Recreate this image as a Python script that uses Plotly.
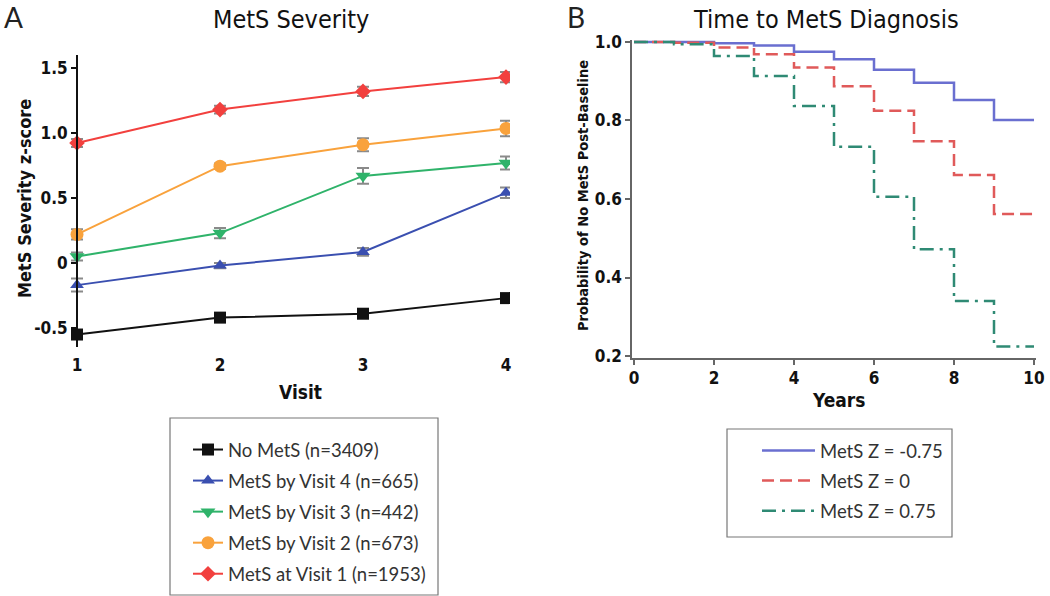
import plotly.graph_objects as go

W, H = 1050, 596

# ---------------- Panel A data ----------------
visits = [1, 2, 3, 4]
groups = ["No MetS (n=3409)", "MetS by Visit 4 (n=665)", "MetS by Visit 3 (n=442)",
          "MetS by Visit 2 (n=673)", "MetS at Visit 1 (n=1953)"]
no_mets = [-0.55, -0.42, -0.39, -0.27]
by_v4 = [-0.17, -0.02, 0.085, 0.54]
by_v3 = [0.05, 0.23, 0.67, 0.77]
by_v2 = [0.22, 0.745, 0.91, 1.035]
at_v1 = [0.923, 1.18, 1.32, 1.43]
err_no_mets = [0.03, 0.02, 0.02, 0.02]
err_by_v4 = [0.05, 0.02, 0.03, 0.04]
err_by_v3 = [0.03, 0.04, 0.06, 0.05]
err_by_v2 = [0.04, 0.02, 0.05, 0.06]
err_at_v1 = [0.03, 0.03, 0.035, 0.04]
a_yticks = [-0.5, 0, 0.5, 1.0, 1.5]
a_yticklabels = ["-0.5", "0", "0.5", "1.0", "1.5"]

# ---------------- Panel B data ----------------
years = [0, 1, 2, 3, 4, 5, 6, 7, 8, 9, 10]
z_names = ["MetS Z = -0.75", "MetS Z = 0", "MetS Z = 0.75"]
surv_low = [1.0, 1.0, 0.997, 0.991, 0.975, 0.956, 0.929, 0.896, 0.852, 0.801, 0.801]
surv_mid = [1.0, 0.998, 0.986, 0.969, 0.935, 0.887, 0.825, 0.747, 0.661, 0.562, 0.562]
surv_high = [1.0, 0.994, 0.964, 0.913, 0.837, 0.733, 0.606, 0.472, 0.340, 0.224, 0.224]

NARROW = "DejaVu Sans Condensed, Liberation Sans Narrow, Liberation Sans, sans-serif"
HUMAN = "Lato, Open Sans, sans-serif"

fig = go.Figure()

a_series = [
    (no_mets, err_no_mets, "#111111", "square", 12),
    (by_v4, err_by_v4, "#3a4fb0", "triangle-up", 12),
    (by_v3, err_by_v3, "#2fb36a", "triangle-down", 13),
    (by_v2, err_by_v2, "#f9a23c", "circle", 13),
    (at_v1, err_at_v1, "#f2403e", "diamond", 12),
]
for name, (vals, errs, col, sym, sz) in zip(groups, a_series):
    fig.add_trace(go.Scatter(
        x=visits, y=vals, name=name, mode="lines+markers",
        line=dict(color=col, width=2),
        marker=dict(color=col, symbol=sym, size=sz),
        error_y=dict(type="data", array=errs, color="#8a8a8a", thickness=2, width=6),
        xaxis="x", yaxis="y", legend="legend", legendgroup=name,
    ))

b_series = [
    (surv_low, "#6a6fd0", "solid"),
    (surv_mid, "#e05a5a", "12px,6px"),
    (surv_high, "#2f8a74", "14px,6px,3px,6px"),
]
for name, (vals, col, dash) in zip(z_names, b_series):
    fig.add_trace(go.Scatter(
        x=years, y=vals, name=name, mode="lines",
        line=dict(color=col, width=2.5, dash=dash, shape="hv"),
        xaxis="x2", yaxis="y2", legend="legend2", legendgroup=name,
    ))

# ---------- geometry ----------
ax_dom = [68 / W, 510 / W]
ax_rng = [0.937, 4.028]
ay_dom = [1 - 347 / H, 1 - 55 / H]
ay_rng = [-0.646, 1.6]
zero_pos = ay_dom[0] + (0 - ay_rng[0]) / (ay_rng[1] - ay_rng[0]) * (ay_dom[1] - ay_dom[0])
yaxis_pos = ax_dom[0] + (1 - ax_rng[0]) / (ax_rng[1] - ax_rng[0]) * (ax_dom[1] - ax_dom[0])

bx_dom = [632 / W, 1036 / W]
by_dom = [1 - 358 / H, 1 - 40 / H]

tickfont = dict(family=NARROW, size=17, color="#111111", weight="bold")

fig.update_layout(
    width=W, height=H, margin=dict(l=0, r=0, t=0, b=0, autoexpand=False),
    paper_bgcolor="white", plot_bgcolor="white",
    xaxis=dict(domain=ax_dom, range=ax_rng, anchor="y", tickvals=visits,
               showgrid=False, zeroline=False, showline=False, ticks="",
               tickfont=tickfont, ticklabelstandoff=6, automargin=False),
    xaxis3=dict(overlaying="x", matches="x", anchor="free", position=zero_pos,
                tickvals=visits, showticklabels=False, showgrid=False, zeroline=False,
                showline=True, linecolor="#111111", linewidth=2,
                ticks="outside", ticklen=6, tickwidth=2, tickcolor="#111111"),
    yaxis=dict(domain=ay_dom, range=ay_rng, anchor="free", position=yaxis_pos,
               tickvals=a_yticks, ticktext=a_yticklabels, showgrid=False, zeroline=False,
               showline=True, linecolor="#111111", linewidth=2,
               ticks="outside", ticklen=5, tickwidth=2, tickcolor="#111111",
               tickfont=tickfont, automargin=False),
    xaxis2=dict(domain=bx_dom, range=[-0.05, 10.05], anchor="y2",
                tickvals=[0, 2, 4, 6, 8, 10], showgrid=False, zeroline=False,
                showline=True, linecolor="#666666", linewidth=1.5,
                ticks="outside", ticklen=5, tickwidth=1.5, tickcolor="#666666",
                tickfont=tickfont, ticklabelstandoff=-1, automargin=False),
    yaxis2=dict(domain=by_dom, range=[0.195, 1.005], anchor="x2",
                tickvals=[0.2, 0.4, 0.6, 0.8, 1.0], tickformat=".1f",
                showgrid=False, zeroline=False,
                showline=True, linecolor="#666666", linewidth=1.5,
                ticks="outside", ticklen=5, tickwidth=1.5, tickcolor="#666666",
                tickfont=tickfont, automargin=False),
    legend=dict(x=188 / W, y=1 - 431 / H, xanchor="left", yanchor="top",
                bgcolor="rgba(0,0,0,0)", borderwidth=0, tracegroupgap=4,
                traceorder="grouped", font=dict(family=HUMAN, size=18.5, color="#333333")),
    legend2=dict(x=757 / W, y=1 - 432 / H, xanchor="left", yanchor="top",
                 bgcolor="rgba(0,0,0,0)", borderwidth=0, tracegroupgap=3, itemwidth=53,
                 traceorder="grouped", font=dict(family=HUMAN, size=18.5, color="#333333")),
    shapes=[
        dict(type="rect", xref="paper", yref="paper", x0=170 / W, x1=438 / W,
             y0=1 - 595 / H, y1=1 - 418 / H, line=dict(color="#777777", width=1.2)),
        dict(type="rect", xref="paper", yref="paper", x0=727 / W, x1=952 / W,
             y0=1 - 537 / H, y1=1 - 429 / H, line=dict(color="#777777", width=1.2)),
    ],
)

def ann(text, x, y, size, family, bold=False, angle=0, color="#111111"):
    fig.add_annotation(text=text, x=x / W, y=1 - y / H, xref="paper", yref="paper",
                       showarrow=False, textangle=angle, xanchor="center", yanchor="middle",
                       font=dict(family=family, size=size, color=color,
                                 weight="bold" if bold else "normal"))

ann("A", 13, 17, 28, HUMAN, color="#222222")
ann("B", 576, 17, 28, HUMAN, color="#222222")
ann("MetS Severity", 291, 20, 25, NARROW)
ann("Time to MetS Diagnosis", 826, 20, 25, NARROW)
ann("MetS Severity z-score", 25, 199, 18, NARROW, bold=True, angle=-90)
ann("Probability of No MetS Post-Baseline", 583, 196, 14.5, NARROW, bold=True, angle=-90)
ann("Visit", 300, 392, 19, NARROW, bold=True)
ann("Years", 838, 400, 19, NARROW, bold=True)

fig.write_html("out.html", config={"displayModeBar": False},
               post_script="document.body.style.margin='0';")
